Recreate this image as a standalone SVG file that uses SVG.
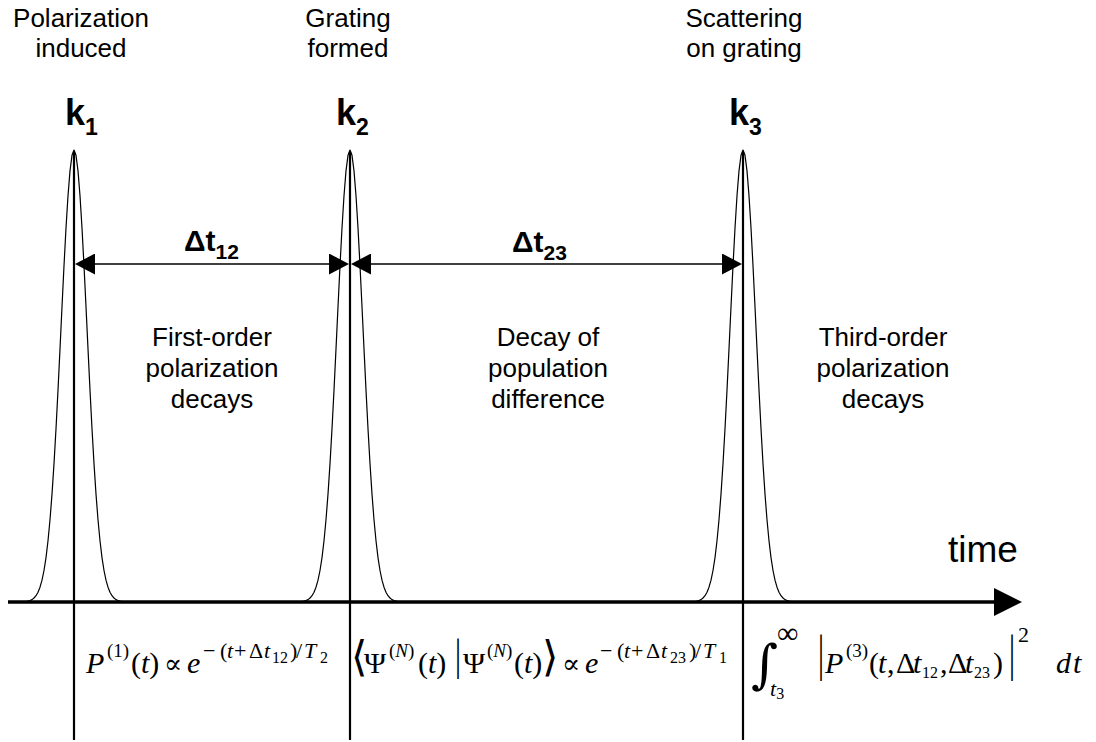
<svg xmlns="http://www.w3.org/2000/svg" width="1096" height="742" viewBox="0 0 1096 742">
<defs>
<style>
.lbl{font-family:"Liberation Sans",Arial,sans-serif;font-size:26px;fill:#000;text-anchor:middle}
.k{font-family:"Liberation Sans",Arial,sans-serif;font-weight:bold;font-size:36px;fill:#000}
.ks{font-size:23px}
.dt{font-family:"Liberation Sans",Arial,sans-serif;font-weight:bold;font-size:30px;fill:#000}
.dts{font-size:21px}
.time{font-family:"Liberation Sans",Arial,sans-serif;font-size:37px;fill:#000}
.m{font-family:"Liberation Serif","DejaVu Serif",serif;font-size:30px;fill:#000}
.sym{font-family:"DejaVu Serif","DejaVu Sans",serif;fill:#000}
.s{font-size:22px}
.sp{font-size:19px}
.ss{font-size:16px}
.i{font-style:italic}
.pulse{fill:none;stroke:#000;stroke-width:1.2;stroke-linejoin:round}
.vl{stroke:#000;stroke-width:2.2}
.arr{stroke:#000;stroke-width:1.6;fill:none}
.axis{stroke:#000;stroke-width:3.4;fill:none}
</style>
<path id="pulse" class="pulse" d="M-50,602 L-48,601.5 L-46,601.1 L-44,600.5 L-42,599.6 L-40,598 L-38,595.7 L-36,592.2 L-34,587.2 L-32,580.2 L-30,570.5 L-28,557.6 L-26,540.8 L-24,519.8 L-22,494.1 L-20,463.6 L-18,428.7 L-16,390.1 L-14,348.9 L-12,306.8 L-10,265.8 L-8,228 L-6,195.7 L-4,170.9 L-2,155.3 L0,150 L2,155.3 L4,170.9 L6,195.7 L8,228 L10,265.8 L12,306.8 L14,348.9 L16,390.1 L18,428.7 L20,463.6 L22,494.1 L24,519.8 L26,540.8 L28,557.6 L30,570.5 L32,580.2 L34,587.2 L36,592.2 L38,595.7 L40,598 L42,599.6 L44,600.5 L46,601.1 L48,601.5 L50,602"/>
<marker id="ah" markerUnits="userSpaceOnUse" markerWidth="20" markerHeight="21" viewBox="0 0 20 21" refX="16" refY="10.5" orient="auto-start-reverse"><path d="M0,0L20,10.5L0,21z" fill="#000"/></marker>
<marker id="ahBig" markerUnits="userSpaceOnUse" markerWidth="28" markerHeight="28" viewBox="0 0 28 28" refX="6" refY="14" orient="auto"><path d="M0,0L28,14L0,28z" fill="#000"/></marker>
</defs>
<rect width="1096" height="742" fill="#fff"/>

<g id="event-k1">
<text class="lbl" x="81" y="27">Polarization</text>
<text class="lbl" x="81" y="57">induced</text>
<text class="k" x="65" y="125">k<tspan class="ks" dy="10">1</tspan></text>
<use href="#pulse" transform="translate(74,0)"/>
<line class="vl" x1="74" y1="152" x2="74" y2="740"/>
</g>

<g id="event-k2">
<text class="lbl" x="348" y="27">Grating</text>
<text class="lbl" x="348" y="57">formed</text>
<text class="k" x="336" y="125">k<tspan class="ks" dy="10">2</tspan></text>
<use href="#pulse" transform="translate(350,0)"/>
<line class="vl" x1="350" y1="152" x2="350" y2="740"/>
</g>

<g id="event-k3">
<text class="lbl" x="744" y="27">Scattering</text>
<text class="lbl" x="744" y="57">on grating</text>
<text class="k" x="729" y="125">k<tspan class="ks" dy="10">3</tspan></text>
<use href="#pulse" transform="translate(743,0)"/>
<line class="vl" x1="743" y1="152" x2="743" y2="740"/>
</g>

<g id="region-1">
<text class="lbl" x="212" y="346">First-order</text>
<text class="lbl" x="212" y="377">polarization</text>
<text class="lbl" x="212" y="408">decays</text>
<g id="formula-1">
<text class="m i" x="86" y="673">P</text>
<text class="m sp" x="107" y="657">(1)</text>
<text class="m" x="131" y="673">(<tspan class="i">t</tspan>)</text>
<text class="sym" x="164" y="673" font-size="27">∝</text>
<text class="m i" x="187" y="673">e</text>
<text class="m s" y="658"><tspan x="203">−</tspan><tspan x="220">(</tspan><tspan x="227" class="i">t</tspan><tspan x="234">+</tspan><tspan x="249">Δ</tspan><tspan x="264" class="i">t</tspan><tspan x="272" class="ss" dy="5">12</tspan><tspan x="290" dy="-5">)</tspan><tspan x="296">/</tspan><tspan x="304" class="i">T</tspan><tspan x="320" class="ss" dy="5">2</tspan></text>
</g>
</g>

<g id="region-2">
<text class="lbl" x="548" y="346">Decay of</text>
<text class="lbl" x="548" y="377">population</text>
<text class="lbl" x="548" y="408">difference</text>
<g id="formula-2">
<text class="sym" x="351" y="671" font-size="42">⟨</text>
<text class="m" x="364" y="673">Ψ</text>
<text class="m sp" x="389" y="657">(<tspan class="i">N</tspan>)</text>
<text class="m" x="418" y="673">(<tspan class="i">t</tspan>)</text>
<text class="m" transform="translate(455,670) scale(1,1.5)">|</text>
<text class="m" x="463" y="673">Ψ</text>
<text class="m sp" x="487" y="657">(<tspan class="i">N</tspan>)</text>
<text class="m" x="514" y="673">(<tspan class="i">t</tspan>)</text>
<text class="sym" x="542" y="671" font-size="42">⟩</text>
<text class="sym" x="562" y="673" font-size="27">∝</text>
<text class="m i" x="585" y="673">e</text>
<text class="m s" y="658"><tspan x="600">−</tspan><tspan x="617">(</tspan><tspan x="624" class="i">t</tspan><tspan x="631">+</tspan><tspan x="646">Δ</tspan><tspan x="661" class="i">t</tspan><tspan x="670" class="ss" dy="5">23</tspan><tspan x="689" dy="-5">)</tspan><tspan x="695">/</tspan><tspan x="703" class="i">T</tspan><tspan x="719" class="ss" dy="5">1</tspan></text>
</g>
</g>

<g id="region-3">
<text class="lbl" x="883" y="346">Third-order</text>
<text class="lbl" x="883" y="377">polarization</text>
<text class="lbl" x="883" y="408">decays</text>
<g id="formula-3">
<text class="sym" x="751" y="682" font-size="52">∫</text>
<text class="m" x="777" y="643" font-size="26">∞</text>
<text class="m s i" x="770" y="696">t<tspan class="ss" dy="3" font-style="normal">3</tspan></text>
<text class="m" transform="translate(818,670) scale(1,1.7)">|</text>
<text class="m i" x="825" y="673">P</text>
<text class="m sp" x="846" y="657">(3)</text>
<text class="m" y="673"><tspan x="869">(</tspan><tspan x="878" class="i">t</tspan><tspan x="887">,</tspan><tspan x="896">Δ</tspan><tspan x="913" class="i">t</tspan><tspan x="922" class="ss" dy="5">12</tspan><tspan x="940" dy="-5">,</tspan><tspan x="948">Δ</tspan><tspan x="965" class="i">t</tspan><tspan x="974" class="ss" dy="5">23</tspan><tspan x="993" dy="-5">)</tspan></text>
<text class="m" transform="translate(1009,670) scale(1,1.7)">|</text>
<text class="m s" x="1018" y="642">2</text>
<text class="m i" x="1056" y="673">d<tspan x="1073">t</tspan></text>
</g>
</g>

<g id="connectors">
<line class="arr" x1="79" y1="264" x2="345" y2="264" marker-start="url(#ah)" marker-end="url(#ah)"/>
<line class="arr" x1="355" y1="264" x2="738" y2="264" marker-start="url(#ah)" marker-end="url(#ah)"/>
<line class="axis" x1="8" y1="602" x2="1000" y2="602" marker-end="url(#ahBig)"/>
<text class="dt" x="184" y="251">Δt<tspan class="dts" dy="8">12</tspan></text>
<text class="dt" x="512" y="252">Δt<tspan class="dts" dy="8">23</tspan></text>
<text class="time" x="948" y="562">time</text>
</g>
</svg>
